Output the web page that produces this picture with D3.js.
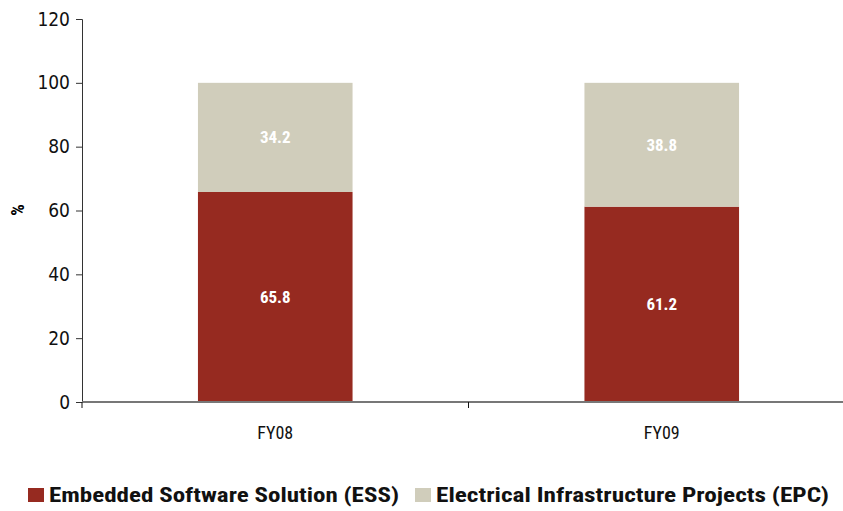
<!DOCTYPE html>
<html>
<head>
<meta charset="utf-8">
<script src="https://cdn.jsdelivr.net/npm/d3@7"></script>
<style>
  html, body { margin: 0; padding: 0; background: #fff; }
  svg { display: block; }
  text { font-family: "Liberation Sans Narrow", "Roboto Condensed", "DejaVu Sans Condensed", sans-serif; }
</style>
</head>
<body>
<svg id="chart" width="843" height="511"></svg>
<script>
// Revenue mix by segment, in percent
const categories = ["FY08", "FY09"];
const essValues = [65.8, 61.2];
const epcValues = [34.2, 38.8];
const seriesNames = ["Embedded Software Solution (ESS)", "Electrical Infrastructure Projects (EPC)"];
const yTicks = [0, 20, 40, 60, 80, 100, 120];

const colors = ["#962a20", "#d0cdbb"];

const svg = d3.select("#chart");
const x0 = 82, x1 = 855, yTop = 19, yBottom = 402;

const x = d3.scaleBand().domain(categories).range([x0, x1]).paddingInner(0.6).paddingOuter(0.3);
const y = d3.scaleLinear().domain([0, 120]).range([yBottom, yTop]);

const rows = categories.map((c, i) => ({ cat: c, ESS: essValues[i], EPC: epcValues[i] }));
const stack = d3.stack().keys(["ESS", "EPC"])(rows);

// Stacked bars
const layers = svg.append("g").selectAll("g").data(stack).join("g")
  .attr("fill", (d, i) => colors[i]);
layers.selectAll("rect").data(d => d).join("rect")
  .attr("x", d => x(d.data.cat))
  .attr("width", x.bandwidth())
  .attr("y", d => y(d[1]))
  .attr("height", d => y(d[0]) - y(d[1]));

// Value labels inside each segment
layers.selectAll("text").data((d, i) => d.map(v => ({ v, key: stack[i].key }))).join("text")
  .attr("x", d => x(d.v.data.cat) + x.bandwidth() / 2)
  .attr("y", d => (y(d.v[0]) + y(d.v[1])) / 2)
  .attr("dy", "0.35em")
  .attr("text-anchor", "middle")
  .attr("fill", "#fff")
  .attr("font-weight", "bold")
  .attr("font-size", 17)
  .text(d => d.v.data[d.key].toFixed(1));

// Y axis
const yAxis = svg.append("g").attr("transform", `translate(${x0},0)`)
  .call(d3.axisLeft(y).tickValues(yTicks).tickSize(6).tickPadding(6));
yAxis.select(".domain").attr("stroke", "#333");
yAxis.selectAll(".tick line").attr("stroke", "#333");
yAxis.selectAll(".tick text").attr("font-size", 19).attr("fill", "#111")
  .style("font-family", "'Liberation Sans Narrow', 'DejaVu Sans Condensed', sans-serif");

// X axis
const xAxis = svg.append("g").attr("transform", `translate(0,${yBottom})`);
xAxis.append("line").attr("x1", x0).attr("x2", 843).attr("y1", 0).attr("y2", 0)
  .attr("stroke", "#777").attr("stroke-width", 2);
const boundaries = [x0, x0 + x.step()];
xAxis.selectAll("line.tk").data(boundaries).join("line").attr("class", "tk")
  .attr("x1", d => d).attr("x2", d => d).attr("y1", 0).attr("y2", 6)
  .attr("stroke", "#111");
xAxis.selectAll("text").data(categories).join("text")
  .attr("x", d => x(d) + x.bandwidth() / 2)
  .attr("y", 37)
  .attr("text-anchor", "middle")
  .attr("font-size", 18)
  .attr("fill", "#111")
  .text(d => d);

// Y axis title
svg.append("text")
  .attr("transform", "translate(24,210) rotate(-90)")
  .attr("text-anchor", "middle")
  .attr("font-size", 18)
  .attr("font-weight", "bold")
  .text("%");

// Legend
const legendItems = [
  { name: seriesNames[0], color: colors[0], x: 28, len: 350 },
  { name: seriesNames[1], color: colors[1], x: 415, len: 393 }
];
const lg = svg.append("g").selectAll("g").data(legendItems).join("g")
  .attr("transform", d => `translate(${d.x},488)`);
lg.append("rect").attr("width", 16).attr("height", 14).attr("fill", d => d.color);
lg.append("text").attr("x", 21).attr("y", 14)
  .attr("font-size", 21).attr("font-weight", "bold").attr("fill", "#111")
  .attr("textLength", d => d.len)
  .attr("lengthAdjust", "spacingAndGlyphs")
  .text(d => d.name);
</script>
</body>
</html>
